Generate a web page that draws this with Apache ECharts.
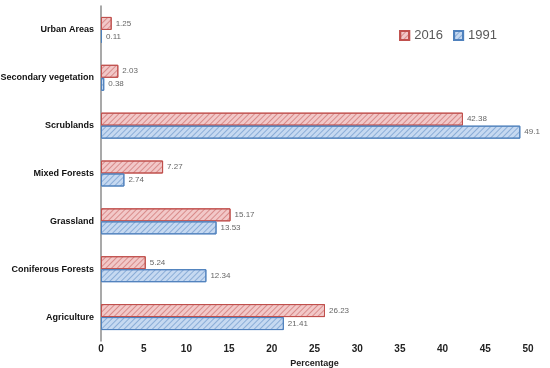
<!DOCTYPE html>
<html><head><meta charset="utf-8">
<script src="https://cdn.jsdelivr.net/npm/echarts@6/dist/echarts.min.js"></script>
<style>html,body{margin:0;padding:0;background:#fff}#c{width:550px;height:368px}</style>
</head><body><div id="c"></div>
<script>
const categories = ['Agriculture','Coniferous Forests','Grassland','Mixed Forests','Scrublands','Secondary vegetation','Urban Areas'];
const values2016 = [26.23, 5.24, 15.17, 7.27, 42.38, 2.03, 1.25];
const values1991 = [21.41, 12.34, 13.53, 2.74, 49.1, 0.38, 0.11];
const xTicks = [0,5,10,15,20,25,30,35,40,45,50];

const chart = echarts.init(document.getElementById('c'));
const hatch = (c) => ({symbol:'rect', symbolSize:1, dashArrayX:[1,0], dashArrayY:[1,3], rotation:-Math.PI/4, color:c});
chart.setOption({
  animation:false,
  aria:{enabled:true, decal:{show:true}},
  textStyle:{fontFamily:'Liberation Sans'},
  legend:{
    data:['2016','1991'], right:48, top:24, itemWidth:9, itemHeight:9, itemGap:10, icon:'rect',
    textStyle:{fontSize:13, color:'#595959', fontFamily:'Liberation Sans'}
  },
  grid:{left:101, right:22, top:6, bottom:27, containLabel:false, outerBoundsMode:'none'},
  xAxis:{
    type:'value', min:0, max:50, interval:5,
    name:'Percentage', nameLocation:'middle', nameGap:12,
    nameTextStyle:{fontSize:9, fontWeight:'bold', color:'#222'},
    axisLine:{show:false}, axisTick:{show:false}, splitLine:{show:false},
    axisLabel:{fontSize:10, fontWeight:'bold', color:'#222', margin:3}
  },
  yAxis:{
    type:'category', data:categories,
    axisLine:{show:true, lineStyle:{color:'#8c8c8c', width:1.5}},
    axisTick:{show:false},
    axisLabel:{fontSize:9, fontWeight:'bold', color:'#111', margin:7}
  },
  series:[
    {name:'2016', type:'bar', data:values2016, barWidth:13, barGap:'0%',
     itemStyle:{color:'#f2c8c8', borderColor:'#c0504d', borderWidth:1, decal:hatch('rgba(192,80,77,0.5)')},
     label:{show:true, position:'right', fontSize:8, color:'#666', distance:4}},
    {name:'1991', type:'bar', data:values1991, barWidth:13, barGap:'0%',
     itemStyle:{color:'#c6d9f1', borderColor:'#4f81bd', borderWidth:1, decal:hatch('rgba(79,129,189,0.5)')},
     label:{show:true, position:'right', fontSize:8, color:'#666', distance:4}}
  ]
});
</script></body></html>
